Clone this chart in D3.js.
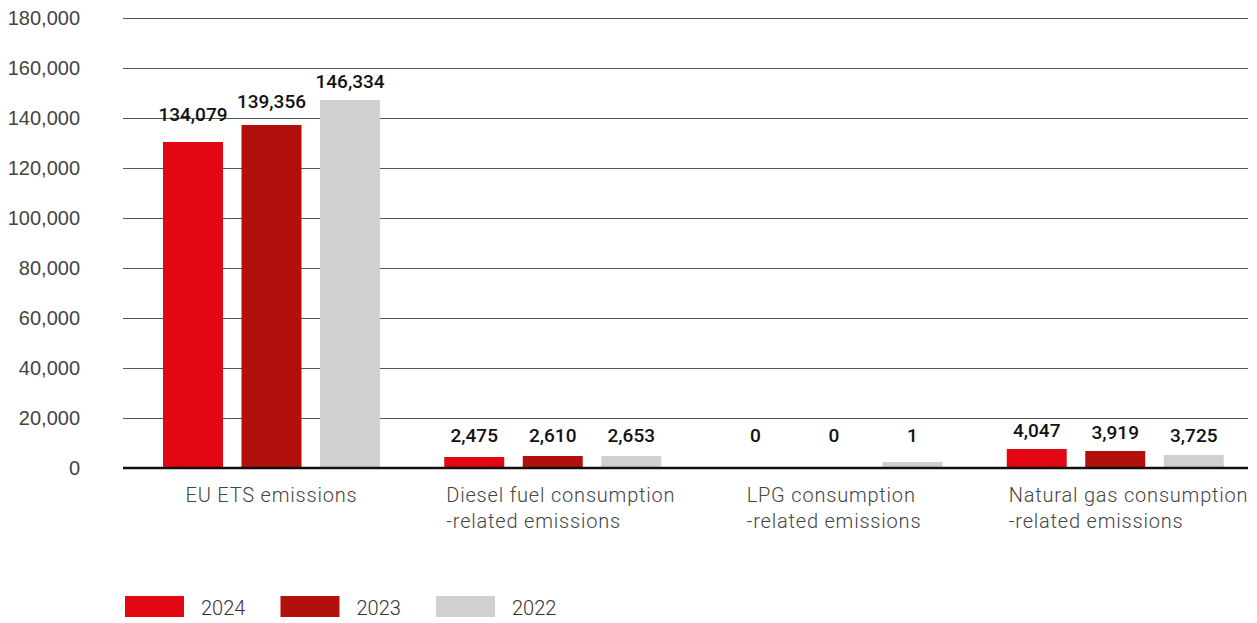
<!DOCTYPE html>
<html>
<head>
<meta charset="utf-8">
<script src="https://cdn.jsdelivr.net/npm/d3@7"></script>
<style>
  body { margin: 0; background: #fff; }
  svg { display: block; font-family: Roboto, 'Noto Sans', sans-serif; }
</style>
</head>
<body>
<div id="chart"></div>
<script>
const categories = [
  'EU ETS emissions',
  'Diesel fuel consumption\n-related emissions',
  'LPG consumption\n-related emissions',
  'Natural gas consumption\n-related emissions'
];
const years = ['2024', '2023', '2022'];
const yearColors = ['#e30613', '#b1100c', '#d0d0d0'];

// printed values (labels)
const labels2024 = [134079, 2475, 0, 4047];
const labels2023 = [139356, 2610, 0, 3919];
const labels2022 = [146334, 2653, 1, 3725];

// bar heights as drawn in the picture (they don't follow the labels exactly)
const bars2024 = [130400, 4400, 0, 7600];
const bars2023 = [137200, 4800, 0, 6800];
const bars2022 = [147200, 4800, 2400, 5200];

const yTicks = [0, 20000, 40000, 60000, 80000, 100000, 120000, 140000, 160000, 180000];

const width = 1257, height = 623;
const plot = { left: 123, right: 1248, top: 18, bottom: 468 };

const labelsByYear = [labels2024, labels2023, labels2022];
const barsByYear = [bars2024, bars2023, bars2022];

const data = [];
categories.forEach((c, ci) => {
  years.forEach((yr, yi) => {
    data.push({ cat: c, year: yr, bar: barsByYear[yi][ci], label: labelsByYear[yi][ci], color: yearColors[yi] });
  });
});

const svg = d3.select('#chart').append('svg')
  .attr('width', width)
  .attr('height', height);

const x = d3.scaleBand()
  .domain(categories)
  .range([plot.left, plot.right])
  .padding(0);

const xSub = d3.scaleBand()
  .domain(years)
  .range([40, 257])
  .paddingInner(0.236);

const y = d3.scaleLinear()
  .domain([0, 180000])
  .range([plot.bottom, plot.top]);

// grid + y labels
const yAxis = svg.append('g')
  .attr('transform', `translate(${plot.left},0)`)
  .call(d3.axisLeft(y).tickValues(yTicks).tickSize(-(plot.right - plot.left)).tickPadding(43).tickFormat(d3.format(',')))
  .call(g => g.select('.domain').remove());
yAxis.selectAll('.tick line')
  .attr('stroke', '#555')
  .attr('stroke-width', 1);
yAxis.selectAll('.tick text')
  .attr('fill', '#444')
  .style('font-size', '20px')
  .style('font-weight', 300);

// bars
svg.append('g').selectAll('rect')
  .data(data)
  .enter()
  .append('rect')
  .attr('x', d => x(d.cat) + xSub(d.year))
  .attr('width', xSub.bandwidth())
  .attr('y', d => y(d.bar))
  .attr('height', d => y(0) - y(d.bar))
  .attr('fill', d => d.color);

// baseline
svg.append('line')
  .attr('x1', plot.left).attr('x2', plot.right)
  .attr('y1', y(0)).attr('y2', y(0))
  .attr('stroke', '#111')
  .attr('stroke-width', 2.5);

// value labels
svg.append('g').selectAll('text')
  .data(data)
  .enter()
  .append('text')
  .attr('x', d => x(d.cat) + xSub(d.year) + xSub.bandwidth() / 2)
  .attr('y', d => Math.min(Math.min(y(d.bar), y(d.label)) - 12, y(0) - 26))
  .attr('text-anchor', 'middle')
  .attr('fill', '#111')
  .style('font-size', '19px')
  .style('font-weight', 500)
  .text(d => d.label.toLocaleString('en-US'));

// category labels: left-aligned lines, block centered on the group but not left of the first bar
const catG = svg.append('g');
categories.forEach(c => {
  const lines = c.split('\n');
  const t = catG.append('text')
    .attr('fill', '#444')
    .style('font-size', '20px')
    .style('font-weight', 300)
    .style('letter-spacing', '0.8px');
  const spans = lines.map((ln, i) => t.append('tspan')
    .attr('y', 502 + i * 26)
    .text(ln));
  const maxW = d3.max(spans, s => s.node().getComputedTextLength());
  const cx = x(c) + (xSub.range()[0] + xSub.range()[1]) / 2;
  const x0 = Math.max(cx - maxW / 2, x(c) + xSub.range()[0] + 2);
  spans.forEach(s => s.attr('x', x0));
});

// legend
const legend = svg.append('g').selectAll('g')
  .data(years)
  .enter()
  .append('g')
  .attr('transform', (d, i) => `translate(${125 + i * 155.5},596)`);
legend.append('rect')
  .attr('width', 59)
  .attr('height', 21)
  .attr('fill', (d, i) => yearColors[i]);
legend.append('text')
  .attr('x', 76)
  .attr('y', 19)
  .attr('fill', '#333')
  .style('font-size', '20px')
  .style('font-weight', 300)
  .text(d => d);
</script>
</body>
</html>
